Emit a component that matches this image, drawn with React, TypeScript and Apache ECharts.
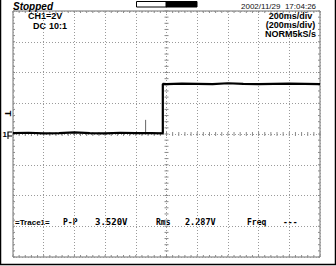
import React, { useEffect, useRef } from "react";
import * as echarts from "echarts";

// Waveform (x in divisions from the left edge, y in divisions from the centre line)
const TRACE_X = [0, 0.5, 1, 1.5, 2, 2.5, 3, 3.5, 4, 4.5, 4.88, 4.88, 5, 5.5, 6, 6.5, 7, 7.5, 8, 8.5, 9, 9.5, 10];
const TRACE_Y = [0.03, 0.04, 0.02, 0.03, 0.05, 0.03, 0.02, 0.04, 0.03, 0.03, 0.02, 1.63, 1.62, 1.64, 1.63, 1.62, 1.65, 1.63, 1.62, 1.63, 1.64, 1.63, 1.62];
const GLITCH_X = [4.32, 4.32];
const GLITCH_Y = [0.03, 0.46];

const X_DIVS = 10;
const Y_HALF = 4;
const MINOR = 5;

const HEADER_LEFT = ["CH1=2V", "DC", "10:1"];
const HEADER_RIGHT = ["200ms/div", "(200ms/div)", "NORM5kS/s"];
const STATUS = "Stopped";
const TIMESTAMP = "2002/11/29  17:04:26";
const MEASURE = ["=Trace1=", "P-P", "3.520V", "Rms", "2.287V", "Freq", "---"];

const FONT = "Liberation Sans";
const MONO = "DejaVu Sans Mono";

export default function App() {
  const ref = useRef<HTMLDivElement>(null);

  useEffect(() => {
    if (!ref.current) return;
    const chart = echarts.init(ref.current, null, { renderer: "svg" });

    const trace = TRACE_X.map((x, i) => [x, TRACE_Y[i]]);
    const glitch = GLITCH_X.map((x, i) => [x, GLITCH_Y[i]]);

    const tickColor = "#8a8a8a";

    const txt = (text: string, x: number, y: number, opts: any = {}) => ({
      type: "text",
      x,
      y,
      silent: true,
      style: {
        text,
        fill: "#000",
        fontFamily: FONT,
        fontSize: 9,
        fontWeight: "bold",
        verticalAlign: "middle",
        textAlign: "left",
        ...opts,
      },
    });

    chart.setOption({
      animation: false,
      backgroundColor: "#fff",
      grid: {
        left: 13,
        top: 11,
        width: 307,
        height: 246,
        show: true,
        borderColor: "#707070",
        borderWidth: 1,
        backgroundColor: "transparent",
      },
      xAxis: {
        type: "value",
        min: 0,
        max: X_DIVS,
        interval: 1,
        axisLine: { show: false },
        axisTick: { show: false },
        axisLabel: { show: false },
        splitLine: { show: true, lineStyle: { color: "#9a9a9a", width: 1, type: [1, 2] } },
      },
      yAxis: {
        type: "value",
        min: -Y_HALF,
        max: Y_HALF,
        interval: 1,
        axisLine: { show: false },
        axisTick: { show: false },
        axisLabel: { show: false },
        splitLine: { show: true, lineStyle: { color: "#9a9a9a", width: 1, type: [1, 2] } },
      },
      series: [
        {
          type: "custom",
          silent: true,
          data: [[0, 0]],
          z: 1,
          renderItem: (_params: any, api: any) => {
            const children: any[] = [];
            const line = (x1: number, y1: number, x2: number, y2: number) =>
              children.push({
                type: "line",
                shape: { x1, y1, x2, y2 },
                style: { stroke: tickColor, lineWidth: 1 },
              });
            for (let i = 0; i <= X_DIVS * MINOR; i++) {
              const v = i / MINOR;
              const [cx, cy] = api.coord([v, 0]);
              line(cx, cy - 2, cx, cy + 2);
              const [, ty] = api.coord([v, Y_HALF]);
              line(cx, ty, cx, ty + 2);
              const [, by] = api.coord([v, -Y_HALF]);
              line(cx, by, cx, by - 2);
            }
            for (let i = -Y_HALF * MINOR; i <= Y_HALF * MINOR; i++) {
              const v = i / MINOR;
              const [mx, my] = api.coord([X_DIVS / 2, v]);
              line(mx - 2, my, mx + 2, my);
              const [lx] = api.coord([0, v]);
              line(lx, my, lx + 2, my);
              const [rx] = api.coord([X_DIVS, v]);
              line(rx, my, rx - 2, my);
            }
            return { type: "group", children };
          },
        },
        {
          type: "line",
          data: glitch,
          showSymbol: false,
          symbol: "none",
          z: 3,
          lineStyle: { color: "#666", width: 1 },
        },
        {
          type: "line",
          data: trace,
          showSymbol: false,
          symbol: "none",
          z: 4,
          lineStyle: { color: "#000", width: 2.2 },
        },
      ],
      graphic: [
        {
          type: "polyline",
          silent: true,
          shape: { points: [[0.5, 0], [0.5, 264.5], [335.5, 264.5], [335.5, 0]] },
          style: { stroke: "#000", lineWidth: 1.5, fill: "none" },
        },
        {
          type: "rect",
          silent: true,
          shape: { x: 136.5, y: 1.5, width: 30, height: 5.5 },
          style: { fill: "#fff", stroke: "#000", lineWidth: 1 },
        },
        {
          type: "rect",
          silent: true,
          shape: { x: 166, y: 1.5, width: 31, height: 5.5 },
          style: { fill: "#000", stroke: "#000", lineWidth: 1 },
        },
        txt(STATUS, 13, 6, { fontStyle: "italic", fontSize: 10 }),
        txt(TIMESTAMP, 241, 6, { fontSize: 8, fontWeight: "normal", fill: "#111" }),
        txt(HEADER_LEFT[0], 28, 16),
        txt(HEADER_LEFT[1], 33, 25.5),
        txt(HEADER_LEFT[2], 49, 25.5),
        txt(HEADER_RIGHT[0], 290.5, 16, { textAlign: "center" }),
        txt(HEADER_RIGHT[1], 290.5, 25, { textAlign: "center" }),
        txt(HEADER_RIGHT[2], 290.5, 34, { textAlign: "center" }),
        txt(MEASURE[0], 15, 222, { fontSize: 8 }),
        txt(MEASURE[1], 63, 222, { fontFamily: MONO, fontSize: 8 }),
        txt(MEASURE[2], 95, 222, { fontFamily: MONO, fontSize: 9 }),
        txt(MEASURE[3], 156, 222, { fontFamily: MONO, fontSize: 8 }),
        txt(MEASURE[4], 185, 222, { fontFamily: MONO, fontSize: 8.5 }),
        txt(MEASURE[5], 247, 222, { fontFamily: MONO, fontSize: 8 }),
        txt(MEASURE[6], 283, 222, { fontFamily: MONO, fontSize: 8 }),
        // trigger level marker
        {
          type: "text",
          x: 7.5,
          y: 113.5,
          rotation: -Math.PI / 2,
          silent: true,
          style: {
            text: "T",
            fill: "#000",
            fontFamily: FONT,
            fontSize: 9,
            fontWeight: "bold",
            textAlign: "center",
            verticalAlign: "middle",
          },
        },
        // channel 1 ground marker
        txt("1", 2.5, 134.5, { fontSize: 8 }),
        {
          type: "polyline",
          silent: true,
          shape: { points: [[12, 132], [8, 132], [8, 136], [12, 136]] },
          style: { stroke: "#000", lineWidth: 1.2, fill: "none" },
        },
        {
          type: "line",
          silent: true,
          shape: { x1: 8, y1: 136, x2: 8, y2: 139 },
          style: { stroke: "#000", lineWidth: 1 },
        },
      ],
    });

    return () => chart.dispose();
  }, []);

  return (
    <div
      ref={ref}
      style={{ position: "fixed", left: 0, top: 0, width: 336, height: 266, background: "#fff" }}
    />
  );
}
